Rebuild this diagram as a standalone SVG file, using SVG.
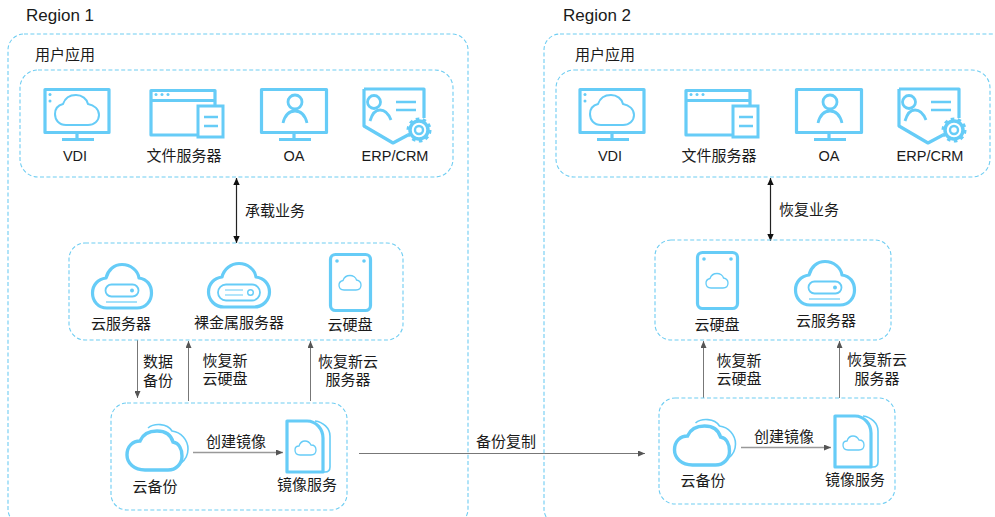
<svg xmlns="http://www.w3.org/2000/svg" width="995" height="517" viewBox="0 0 995 517">
<style>
text{font-family:"Liberation Sans","Noto Sans CJK SC",sans-serif;font-size:15px;fill:#1a1a1a;text-anchor:middle}
.rg{font-size:17px;text-anchor:start}
.la{font-size:14.500px}
.box{fill:none;stroke:#6fcdf2;stroke-width:1.1;stroke-dasharray:4 2.4}
.ic{fill:none;stroke:#66ccf7;stroke-width:3.2;stroke-linejoin:round}
.th{fill:none;stroke:#66ccf7;stroke-width:1.6}
.dot{fill:#66ccf7}
.gr{stroke:#777;stroke-width:1;fill:none}
.lg{stroke:#999;stroke-width:1.5;fill:none}
.bk{stroke:#222;stroke-width:1.2;fill:none}
</style>
<defs>
<marker id="ga" markerUnits="userSpaceOnUse" markerWidth="8" markerHeight="6" refX="7" refY="3" orient="auto-start-reverse"><path d="M0,0L7,3L0,6z" fill="#555"/></marker>
<marker id="ba" markerUnits="userSpaceOnUse" markerWidth="8" markerHeight="7" refX="7" refY="3.500" orient="auto-start-reverse"><path d="M0,0.300L7,3.500L0,6.700z" fill="#111"/></marker>
<g id="vdi"><rect class="ic" x="45" y="89.500" width="64" height="43"/><path class="ic" d="M77,134V139M62,139.500H94"/><circle class="dot" cx="50" cy="94.500" r="1.500"/><circle class="dot" cx="50" cy="101" r="1.500"/><path class="th" style="stroke-width:2" d="M66,125C59,125 55,120 55,114C55,108 59,105 63,104C65,98 70,95 76,95C82,95 87,99 88,104C94,105 99,109 99,115C99,121 94,125 88,125Z"/></g>
<g id="file"><path class="ic" d="M197,135H151V90.500H215V106M151,100.500H215"/><rect x="198" y="106" width="25" height="31" fill="#fff" stroke="#66ccf7" stroke-width="3"/><path class="ic" style="stroke-width:2.400" d="M204,117H218M204,126H218"/><circle class="dot" cx="156" cy="94.500" r="1.500"/><circle class="dot" cx="162" cy="94.500" r="1.500"/><circle class="dot" cx="168" cy="94.500" r="1.500"/></g>
<g id="oa"><rect class="ic" x="261.500" y="89.500" width="65" height="43"/><path class="ic" d="M294,134V139M279,139.500H311"/><circle class="ic" style="stroke-width:2.800" cx="295" cy="102" r="7"/><path class="ic" style="stroke-width:2.800" d="M283,123C285,115 289,111 295,111C301,111 305,115 307,123"/></g>
<g id="erp"><path class="ic" d="M364,89H424V118M364,89V126L393,143L408,135"/><circle class="ic" style="stroke-width:2.800" cx="374" cy="102" r="6.500"/><path class="ic" style="stroke-width:2.800" d="M370,121C372,114 376,110 380,110C385,110 389,115 391,120"/><path class="ic" style="stroke-width:2.600" d="M396,102H416M396,110H416"/><circle cx="419" cy="130" r="9" fill="#fff" stroke="#66ccf7" stroke-width="3.500"/><circle cx="419" cy="130" r="11" fill="none" stroke="#66ccf7" stroke-width="3" stroke-dasharray="3.500 3.400"/><circle class="th" style="stroke-width:2.400" cx="419" cy="130" r="4"/></g>
<g id="ecs"><path class="ic" d="M107,308C98,308 92.500,301 92.500,293C92.500,285 98,279 106,278C108,270 114,264.500 122,264.500C131,264.500 138,271 139,278C147,279 151.500,285 151.500,293C151.500,301 146,308 137,308Z"/><rect class="th" style="stroke-width:1.800" x="105.500" y="284.500" width="33" height="12" rx="6"/><circle class="dot" cx="132" cy="290.500" r="2"/><path class="th" style="stroke-width:1.200" d="M106,302H137"/></g>
<g id="bms"><path class="ic" d="M224,307C215,307 208.500,300 208.500,292C208.500,284 214,278 222,277C224,269 231,263.500 239,263.500C248,263.500 255,270 256,277C264,278 269.500,284 269.500,292C269.500,300 263,307 254,307Z"/><rect class="th" style="stroke-width:1.800" x="218" y="284.500" width="42" height="16" rx="8"/><path class="th" style="stroke-width:1.200" d="M225,290H243M225,295H243"/><circle class="th" style="stroke-width:1.400" cx="250.500" cy="292.500" r="2.800"/></g>
<g id="evs"><rect class="ic" x="330.500" y="254.500" width="40" height="56" rx="5"/><circle class="dot" cx="337" cy="261" r="1.800"/><circle class="dot" cx="364" cy="261" r="1.800"/><path class="th" style="stroke-width:1.300" d="M344,290C340,290 339,287 339,285C339,282 341,281 343,280.500C344,277.500 347,275.500 350,275.500C353,275.500 356,277.500 356.500,280C359,280.500 361,282 361,285C361,288 359,290 356,290Z"/></g>
<g id="cbr"><path class="th" d="M148,428C154,423 167,423 172,431C181,432 188,440 188,449C188,455 185,460 181,463"/><path d="M145,470C134,470 127,463 127,455C127,446 133,441 140,441C143,434 150,431 157,431C165,431 171,435 173,442C179,443 182,449 182,456C182,464 176,470 168,470Z" fill="#fff" stroke="#66ccf7" stroke-width="3.400"/></g>
<g id="ims"><path class="th" d="M315,421C323,422 330,428 330,436V467C330,470 328,472 325,472H322"/><path class="ic" d="M287,421H307C316,421 323,429 323,438V472H287Z"/><path class="th" style="stroke-width:1.300" d="M300,455C296,455 295,452 295,450C295,447 297,446 299,446C300,443 302,441 305,441C308,441 310,443 311,445C314,445 316,447 316,450C316,453 314,455 311,455Z"/></g>
</defs>

<g id="connectors">
<path class="bk" marker-start="url(#ba)" marker-end="url(#ba)" d="M236.500,178V243"/>
<path class="bk" marker-start="url(#ba)" marker-end="url(#ba)" d="M770.500,178V241"/>
<path class="gr" marker-end="url(#ga)" d="M137.500,340V398"/>
<path class="gr" marker-end="url(#ga)" d="M188.500,401V341"/>
<path class="gr" marker-end="url(#ga)" d="M310.500,401V341"/>
<path class="gr" marker-end="url(#ga)" d="M703.500,398V341"/>
<path class="gr" marker-end="url(#ga)" d="M839.500,398V341"/>
<path class="lg" marker-end="url(#ga)" d="M193,452.500H283"/>
<path class="lg" marker-end="url(#ga)" d="M741,447.500H831"/>
<path class="gr" marker-end="url(#ga)" d="M359,453.500H645"/>
</g>
<g id="region1"><rect class="box" x="8" y="34" width="460" height="491" rx="16"/><text class="rg" x="26" y="21">Region 1</text></g>
<g id="region2"><rect class="box" x="544" y="34" width="470" height="491" rx="16"/><text class="rg" x="563" y="21">Region 2</text></g>

<g id="apps1"><rect class="box" x="20" y="70" width="433" height="107" rx="18"/><text x="65" y="60">用户应用</text></g>
<g id="vdi1"><use href="#vdi"/><text class="la" x="75" y="161">VDI</text></g>
<g id="file1"><use href="#file"/><text x="184" y="161">文件服务器</text></g>
<g id="oa1"><use href="#oa"/><text class="la" x="294" y="161">OA</text></g>
<g id="erp1"><use href="#erp"/><text class="la" x="395" y="161">ERP/CRM</text></g>

<g id="apps2"><rect class="box" x="556" y="70" width="434" height="107" rx="18"/><text x="605" y="60">用户应用</text></g>
<g id="vdi2"><use href="#vdi" x="535"/><text class="la" x="610" y="161">VDI</text></g>
<g id="file2"><use href="#file" x="535"/><text x="719" y="161">文件服务器</text></g>
<g id="oa2"><use href="#oa" x="535"/><text class="la" x="829" y="161">OA</text></g>
<g id="erp2"><use href="#erp" x="535"/><text class="la" x="930" y="161">ERP/CRM</text></g>

<g id="compute1"><rect class="box" x="69" y="243" width="334" height="97" rx="16"/></g>
<g id="ecs1"><use href="#ecs"/><text x="121" y="329">云服务器</text></g>
<g id="bms1"><use href="#bms"/><text x="239" y="328">裸金属服务器</text></g>
<g id="evs1"><use href="#evs"/><text x="350" y="330">云硬盘</text></g>

<g id="compute2"><rect class="box" x="655" y="240" width="236" height="100" rx="16"/></g>
<g id="evs2"><use href="#evs" x="367" y="-2"/><text x="717" y="330">云硬盘</text></g>
<g id="ecs2"><use href="#ecs" x="703" y="-3"/><text x="826" y="326">云服务器</text></g>

<g id="backup1"><rect class="box" x="111" y="403" width="236" height="107" rx="16"/></g>
<g id="cbr1"><use href="#cbr"/><text x="155" y="492">云备份</text></g>
<g id="ims1"><use href="#ims"/><text x="307" y="490">镜像服务</text></g>
<g id="backup2"><rect class="box" x="659" y="398" width="236" height="106" rx="16"/></g>
<g id="cbr2"><use href="#cbr" x="547.500" y="-5"/><text x="703" y="486">云备份</text></g>
<g id="ims2"><use href="#ims" x="548" y="-5"/><text x="855" y="485">镜像服务</text></g>

<g id="labels">
<text x="275" y="216">承载业务</text>
<text x="809" y="215">恢复业务</text>
<text x="158" y="367">数据</text><text x="158" y="386">备份</text>
<text x="225" y="366">恢复新</text><text x="225" y="384">云硬盘</text>
<text x="348" y="367">恢复新云</text><text x="348" y="385">服务器</text>
<text x="739" y="366">恢复新</text><text x="739" y="384">云硬盘</text>
<text x="877" y="365">恢复新云</text><text x="877" y="384">服务器</text>
<text x="236" y="447">创建镜像</text>
<text x="784" y="442">创建镜像</text>
<text x="506" y="447">备份复制</text>
</g>
</svg>
